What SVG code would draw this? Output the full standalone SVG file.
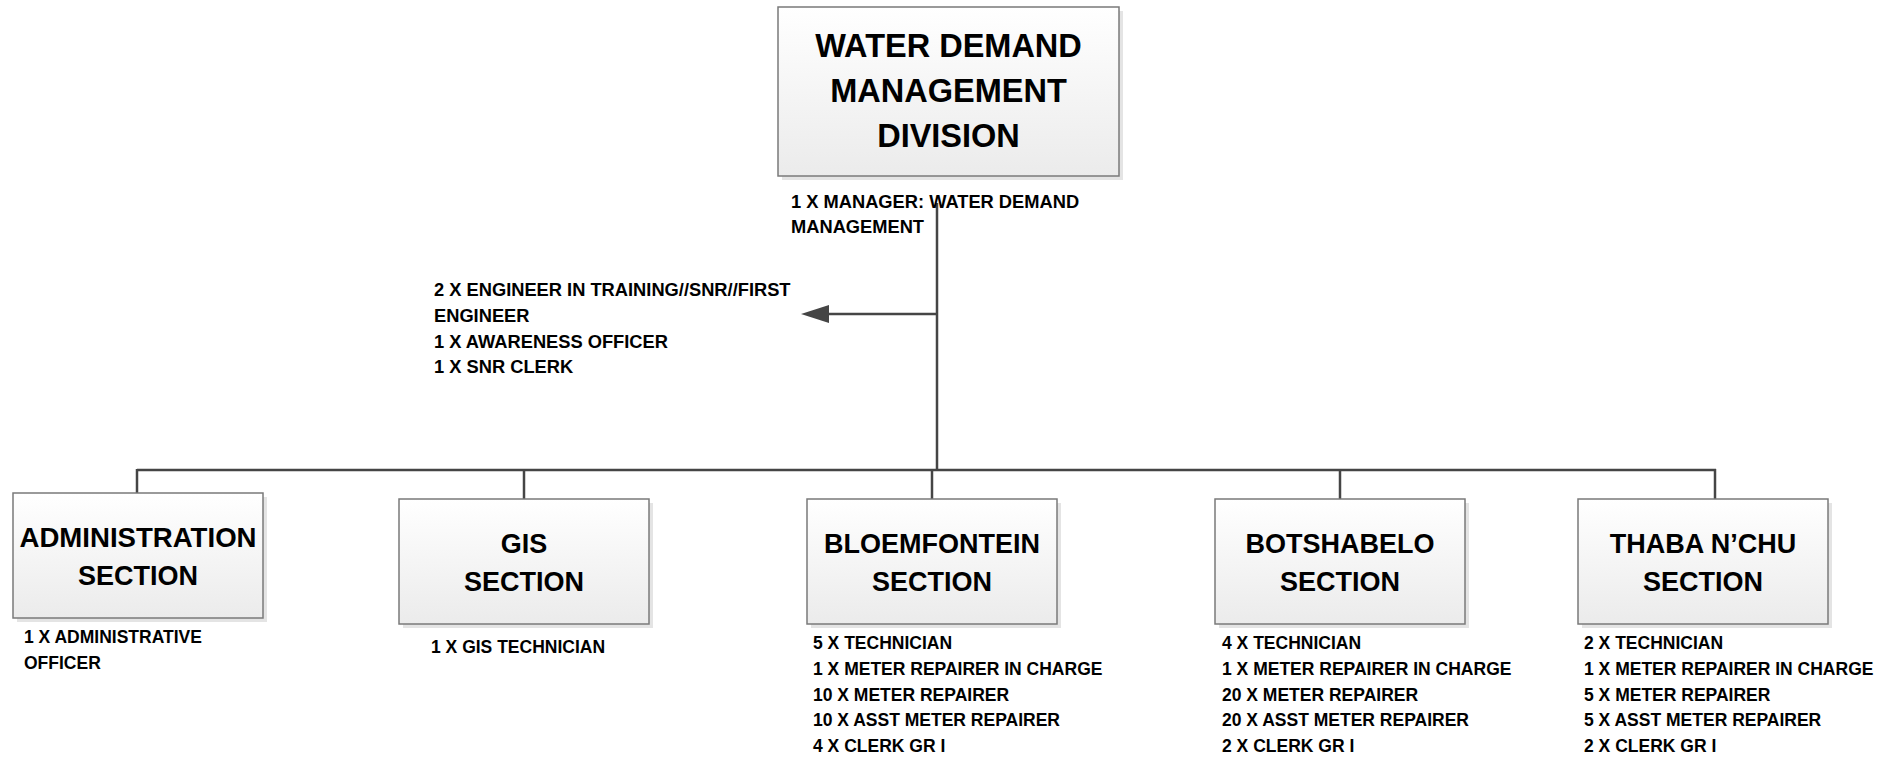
<svg xmlns="http://www.w3.org/2000/svg" width="1891" height="757" viewBox="0 0 1891 757">
<defs>
<linearGradient id="boxfill" x1="0" y1="0" x2="0" y2="1">
<stop offset="0" stop-color="#ffffff"/>
<stop offset="1" stop-color="#ebebeb"/>
</linearGradient>
<style>
.shadow{fill:#e4e4e4;}
.box{fill:url(#boxfill);stroke:#7a7a7a;stroke-width:1.5;}
.conn{stroke:#454545;stroke-width:2.5;fill:none;}
.head{fill:#454545;}
.t{font-family:"Liberation Sans",Arial,sans-serif;font-weight:bold;fill:#000;}
.title{font-size:32.5px;text-anchor:middle;}
.sec{font-size:27px;text-anchor:middle;}
.lbl{font-size:17.5px;}
.lbl2{font-size:18.3px;}
</style>
</defs>
<rect width="1891" height="757" fill="#ffffff"/>

<g id="connectors">
<line class="conn" x1="937" y1="203" x2="937" y2="471"/>
<line class="conn" x1="937" y1="314" x2="828" y2="314"/>
<polygon class="head" points="801,314 829,305 829,323"/>
<line class="conn" x1="137" y1="470" x2="1716" y2="470"/>
<line class="conn" x1="137" y1="469" x2="137" y2="493"/>
<line class="conn" x1="524" y1="469" x2="524" y2="499"/>
<line class="conn" x1="932" y1="469" x2="932" y2="499"/>
<line class="conn" x1="1340" y1="469" x2="1340" y2="499"/>
<line class="conn" x1="1715" y1="469" x2="1715" y2="499"/>
</g>

<g id="division">
<rect class="shadow" x="782" y="11" width="341" height="169"/>
<rect class="box" x="778" y="7" width="341" height="169"/>
<text class="t title" x="948.5" y="57">WATER DEMAND</text>
<text class="t title" x="948.5" y="102">MANAGEMENT</text>
<text class="t title" x="948.5" y="147">DIVISION</text>
<text class="t lbl2" x="791" y="208">1 X MANAGER: WATER DEMAND</text>
<text class="t lbl2" x="791" y="233">MANAGEMENT</text>
</g>

<g id="staff">
<text class="t lbl2" x="434" y="296">2 X ENGINEER IN TRAINING//SNR//FIRST</text>
<text class="t lbl2" x="434" y="322">ENGINEER</text>
<text class="t lbl2" x="434" y="348">1 X AWARENESS OFFICER</text>
<text class="t lbl2" x="434" y="373">1 X SNR CLERK</text>
</g>

<g id="admin">
<rect class="shadow" x="17" y="497" width="250" height="125"/>
<rect class="box" x="13" y="493" width="250" height="125"/>
<text class="t sec" x="138" y="547" style="font-size:27.6px">ADMINISTRATION</text>
<text class="t sec" x="138" y="585">SECTION</text>
<text class="t lbl" x="24" y="643">1 X ADMINISTRATIVE</text>
<text class="t lbl" x="24" y="669">OFFICER</text>
</g>

<g id="gis">
<rect class="shadow" x="403" y="503" width="250" height="125"/>
<rect class="box" x="399" y="499" width="250" height="125"/>
<text class="t sec" x="524" y="553">GIS</text>
<text class="t sec" x="524" y="591">SECTION</text>
<text class="t lbl" x="431" y="653">1 X GIS TECHNICIAN</text>
</g>

<g id="bloemfontein">
<rect class="shadow" x="811" y="503" width="250" height="125"/>
<rect class="box" x="807" y="499" width="250" height="125"/>
<text class="t sec" x="932" y="553">BLOEMFONTEIN</text>
<text class="t sec" x="932" y="591">SECTION</text>
<text class="t lbl" x="813" y="649">5 X TECHNICIAN</text>
<text class="t lbl" x="813" y="675">1 X METER REPAIRER IN CHARGE</text>
<text class="t lbl" x="813" y="701">10 X METER REPAIRER</text>
<text class="t lbl" x="813" y="726">10 X ASST METER REPAIRER</text>
<text class="t lbl" x="813" y="752">4 X CLERK GR I</text>
</g>

<g id="botshabelo">
<rect class="shadow" x="1219" y="503" width="250" height="125"/>
<rect class="box" x="1215" y="499" width="250" height="125"/>
<text class="t sec" x="1340" y="553">BOTSHABELO</text>
<text class="t sec" x="1340" y="591">SECTION</text>
<text class="t lbl" x="1222" y="649">4 X TECHNICIAN</text>
<text class="t lbl" x="1222" y="675">1 X METER REPAIRER IN CHARGE</text>
<text class="t lbl" x="1222" y="701">20 X METER REPAIRER</text>
<text class="t lbl" x="1222" y="726">20 X ASST METER REPAIRER</text>
<text class="t lbl" x="1222" y="752">2 X CLERK GR I</text>
</g>

<g id="thabanchu">
<rect class="shadow" x="1582" y="503" width="250" height="125"/>
<rect class="box" x="1578" y="499" width="250" height="125"/>
<text class="t sec" x="1703" y="553">THABA N’CHU</text>
<text class="t sec" x="1703" y="591">SECTION</text>
<text class="t lbl" x="1584" y="649">2 X TECHNICIAN</text>
<text class="t lbl" x="1584" y="675">1 X METER REPAIRER IN CHARGE</text>
<text class="t lbl" x="1584" y="701">5 X METER REPAIRER</text>
<text class="t lbl" x="1584" y="726">5 X ASST METER REPAIRER</text>
<text class="t lbl" x="1584" y="752">2 X CLERK GR I</text>
</g>
</svg>
